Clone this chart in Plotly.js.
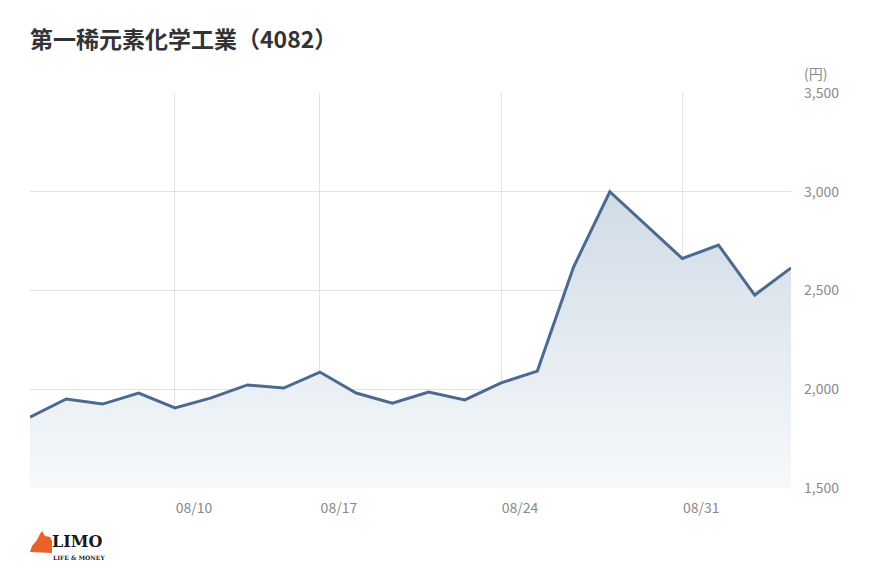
<!DOCTYPE html>
<html><head><meta charset="utf-8">
<script src="https://cdn.plot.ly/plotly-3.0.1.min.js"></script>
<style>html,body{margin:0;padding:0;background:#fff;}#chart{width:870px;height:582px;}</style>
</head><body><div id="chart"></div>
<script>
const dates = ['08/04','08/05','08/08','08/09','08/10','08/12','08/15','08/16','08/17','08/18','08/19','08/22','08/23','08/24','08/25','08/26','08/29','08/30','08/31','09/01','09/02','09/05'];
const prices = [1859,1951,1925,1981,1905,1956,2022,2006,2087,1981,1930,1986,1946,2032,2092,2619,3000,2830,2662,2730,2477,2614];
const tickDates = ['08/10','08/17','08/24','08/31'];
const yTicks = [1500,2000,2500,3000,3500];
const titleText = '第一稀元素化学工業（4082）';
const unitText = '(円)';

// pixel -> paper helpers for decorations (plot area 30..791 x 93..488)
const PX = p => (p-30)/761;
const PY = p => (488-p)/395;
const foxPts = [[30,552],[32,546],[37,540],[40,534],[42,531],[45,536],[50,537],[52,541],[52,553]];
const foxPath = foxPts.map((p,i)=>(i?'L ':'M ')+PX(p[0]).toFixed(4)+','+PY(p[1]).toFixed(4)).join(' ')+' Z';

const trace = {
  x: dates, y: prices, type:'scatter', mode:'lines',
  line:{color:'#4b6a8e', width:3},
  fill:'tozeroy',
  fillgradient:{type:'vertical', start:1500, stop:3000,
    colorscale:[[0,'rgba(246,249,251,1)'],[1,'rgba(208,219,230,1)']]},
  hoverinfo:'skip'
};
const layout = {
  width:870, height:582,
  margin:{l:30, r:79, t:93, b:94},
  paper_bgcolor:'#fff', plot_bgcolor:'#fff',
  showlegend:false,
  font:{family:'"Noto Sans CJK JP","Noto Sans",sans-serif', color:'#8a8a8a', size:14},
  title:{text:titleText, x:30/870, xref:'container', xanchor:'left', y:1-40/582, yref:'container', yanchor:'middle',
    font:{family:'"Noto Sans CJK JP",sans-serif', size:23, color:'#333', weight:700}},
  xaxis:{type:'category', range:[0,dates.length-1], tickvals:tickDates, ticktext:tickDates,
    showgrid:true, gridcolor:'#e2e2e2', gridwidth:1, zeroline:false, showline:false, ticks:'',
    ticklabelstandoff:10, ticklabelshift:19,
    tickfont:{size:14, color:'#8a8a8a'}, fixedrange:true},
  yaxis:{range:[1500,3500], side:'right', tickvals:yTicks, tickformat:',d',
    showgrid:true, gridcolor:'#e2e2e2', gridwidth:1, zeroline:false, showline:false, ticks:'',
    ticklabelstandoff:12,
    tickfont:{size:14, color:'#8a8a8a'}, fixedrange:true},
  annotations:[
    {text:unitText, xref:'paper', yref:'paper', x:PX(802), y:PY(73), xanchor:'left', yanchor:'middle', showarrow:false,
     font:{size:14, color:'#8a8a8a'}},
    {text:'<b>LIMO</b>', xref:'paper', yref:'paper', x:PX(51), y:PY(552), xanchor:'left', yanchor:'bottom', showarrow:false,
     borderpad:0, font:{family:'"DejaVu Serif",serif', size:16, color:'#1a1a1a'}},
    {text:'<b>LIFE &amp; MONEY</b>', xref:'paper', yref:'paper', x:PX(52), y:PY(553), xanchor:'left', yanchor:'top', showarrow:false,
     borderpad:0, font:{family:'"DejaVu Serif",serif', size:6, color:'#1a1a1a'}}
  ],
  shapes:[
    {type:'path', xref:'paper', yref:'paper', layer:'above', path:foxPath,
     fillcolor:'#e8622a', line:{width:0}}
  ]
};
Plotly.newPlot('chart',[trace],layout,{displayModeBar:false, staticPlot:true});
</script></body></html>
